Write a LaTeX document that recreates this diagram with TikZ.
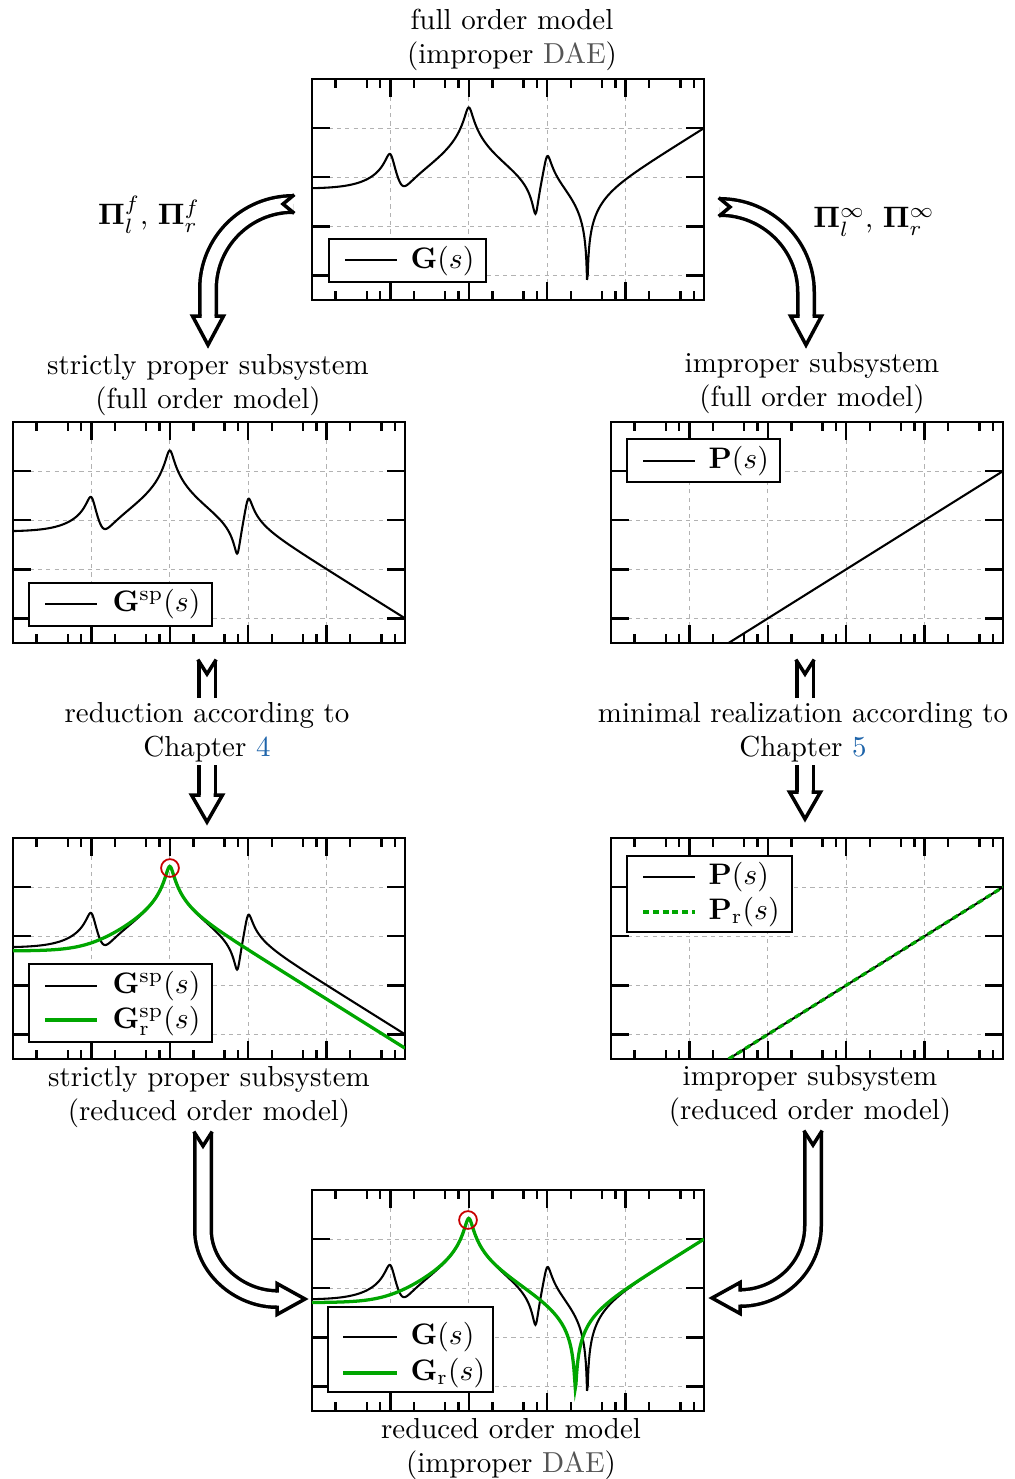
\documentclass[tikz,border=0pt]{standalone}
\usepackage{pgfplots}
\pgfplotsset{compat=1.18}
\usetikzlibrary{calc}

\definecolor{pgreen}{RGB}{0,166,0}
\definecolor{cred}{RGB}{200,0,0}
\definecolor{lnkblue}{RGB}{30,100,170}
\definecolor{daegray}{RGB}{85,85,85}

\tikzset{
  blk/.style={black, line width=0.7pt, mark=none},
  grn/.style={pgreen, line width=1.1pt, mark=none},
  grndash/.style={pgreen, line width=1.1pt, mark=none, dash pattern=on 2pt off 1.3pt},
  shaft/.style={line width=1.18pt, double=white, double distance=4.38pt},
  headst/.style={line width=1.18pt, fill=white, draw=black, line join=miter},
  notchst/.style={line width=1.18pt, line join=miter, line cap=rect},
  legbox/.style={draw=black, fill=white, line width=0.6pt},
  legtxt/.style={anchor=west, inner sep=0pt},
  lbl/.style={align=center, inner sep=0pt},
  peakmark/.style={draw=cred, line width=0.6pt},
  every node/.append style={font=\fontsize{9.75pt}{11.6pt}\selectfont},
}

\pgfplotsset{
  bode/.style={
    scale only axis, width=132.104pt, height=74.477pt, anchor=north west,
    xmin=0, xmax=5, ymin=0, ymax=4.5,
    xtick={1,2,3,4}, ytick={0.5,1.5,2.5,3.5},
    minor xtick={0.3,0.7,0.87,1.3,1.7,1.87,2.3,2.7,2.87,3.3,3.7,3.87,4.3,4.7,4.87},
    xticklabels={}, yticklabels={},
    grid=major,
    major grid style={gray!60, line width=0.4pt, dash pattern=on 1.4pt off 1.4pt},
    major tick length=6pt, minor tick length=3pt,
    tick style={black, line width=0.8pt},
    axis line style={line width=0.8pt},
    tick align=inside,
  }
}

\begin{document}
\begin{tikzpicture}[declare function={
    ur(\x)=10^(\x-2);
    ar(\x)=1-ur(\x)^2;
    br(\x)=0.2*ur(\x);
    cr(\x)=10^(\x-0.98);
    reGr(\x)=158.49*(ar(\x)+cr(\x)*br(\x))/(ar(\x)^2+br(\x)^2);
    imGr(\x)=158.49*(cr(\x)*ar(\x)-br(\x))/(ar(\x)^2+br(\x)^2);
    ua(\x)=10^(\x-1);
    dna(\x)=(1-ua(\x)^2)^2+(0.23*ua(\x))^2;
    reMa(\x)=(176.5*0.23*ua(\x)^2+28*(1-ua(\x)^2))/dna(\x);
    imMa(\x)=(176.5*ua(\x)*(1-ua(\x)^2)-28*0.23*ua(\x))/dna(\x);
    uc(\x)=10^(\x-3);
    reMc(\x)=150.3*0.18*uc(\x)^2/((1-uc(\x)^2)^2+(0.18*uc(\x))^2);
    imMc(\x)=150.3*uc(\x)*(1-uc(\x)^2)/((1-uc(\x)^2)^2+(0.18*uc(\x))^2);
    reGs(\x)=reGr(\x)+reMa(\x)+reMc(\x);
    imGs(\x)=imGr(\x)+imMa(\x)+imMc(\x);
    Pim(\x)=10^(\x-1.5);
    Ysp(\x)=0.5*log10(reGs(\x)^2+imGs(\x)^2);
    YG(\x)=0.5*log10((reGs(\x)-1.3)^2+(imGs(\x)+Pim(\x))^2);
    Yr(\x)=0.5*log10(reGr(\x)^2+imGr(\x)^2);
    YGr(\x)=0.5*log10((reGr(\x)+2.5)^2+(imGr(\x)+Pim(\x))^2);
  }]

% ---------- plots ----------
\begin{axis}[bode, name=axG, at={(105.144pt,-26.623pt)}]
  \addplot[blk, domain=0:5, samples=601] {YG(x)};
\end{axis}

\begin{axis}[bode, name=axGsp, at={(4.381pt,-142.214pt)}]
  \addplot[blk, domain=0:5, samples=601] {Ysp(x)};
\end{axis}

\begin{axis}[bode, name=axP, at={(205.907pt,-142.214pt)}]
  \addplot[blk, domain=1:5, samples=2] {x-1.5};
\end{axis}

\begin{axis}[bode, name=axGspr, at={(4.381pt,-282.406pt)}]
  \addplot[blk, domain=0:5, samples=601] {Ysp(x)};
  \addplot[grn, domain=0:5, samples=601] {Yr(x)};
\end{axis}

\begin{axis}[bode, name=axPr, at={(205.907pt,-282.406pt)}]
  \addplot[blk, domain=1:5, samples=2] {x-1.5};
  \addplot[grndash, domain=1.5:5, samples=2] {x-1.5};
\end{axis}

\begin{axis}[bode, name=axGr, at={(105.144pt,-401.03pt)}]
  \addplot[blk, domain=0:5, samples=601] {YG(x)};
  \addplot[grn, domain=0:5, samples=601] {YGr(x)};
\end{axis}

\begin{scope}[x=0.337pt, y=-0.337pt]
  % ---------- peak markers ----------
  \draw[peakmark] (170,868) circle[radius=3pt];
  \draw[peakmark] (468,1220) circle[radius=3pt];

  % ---------- legends ----------
  \path[legbox] (329,239) rectangle (486,282);
  \draw[blk] (345,260) -- (397,260);
  \node[legtxt] (lgG) at (410,261) {$\mathbf{G}(s)$};

  \path[legbox] (29,583) rectangle (212,626);
  \draw[blk] (45,604) -- (97,604);
  \node[legtxt] (lgGsp) at (112,604) {$\mathbf{G}^{\mathrm{sp}}(s)$};

  \path[legbox] (627,439) rectangle (780,482);
  \draw[blk] (643,461) -- (695,461);
  \node[legtxt] (lgP) at (708,461) {$\mathbf{P}(s)$};

  \path[legbox] (29,964) rectangle (212,1042);
  \draw[blk] (45,986) -- (97,986);
  \node[legtxt] (lgGsp2) at (112,986) {$\mathbf{G}^{\mathrm{sp}}(s)$};
  \draw[grn] (45,1020) -- (97,1020);
  \node[legtxt] (lgGspr) at (112,1021) {$\mathbf{G}^{\mathrm{sp}}_{\mathrm{r}}(s)$};

  \path[legbox] (627,856) rectangle (792,932);
  \draw[blk] (643,877) -- (695,877);
  \node[legtxt] (lgP2) at (708,877) {$\mathbf{P}(s)$};
  \draw[grndash] (643,912) -- (695,912);
  \node[legtxt] (lgPr) at (708,912) {$\mathbf{P}_{\mathrm{r}}(s)$};

  \path[legbox] (328,1307) rectangle (493,1392);
  \draw[blk] (343,1337) -- (397,1337);
  \node[legtxt] (lgG2) at (410,1337) {$\mathbf{G}(s)$};
  \draw[grn] (343,1373) -- (397,1373);
  \node[legtxt] (lgGr) at (410,1373) {$\mathbf{G}_{\mathrm{r}}(s)$};

  % ---------- texts ----------
  \node[lbl] (t1) at (512,40) {full order model\\(improper {\color{daegray}DAE})};
  \node[lbl] (t2) at (208,385) {strictly proper subsystem\\(full order model)};
  \node[lbl] (t3) at (812,383) {improper subsystem\\(full order model)};
  \node[lbl] (t4) at (207,732) {reduction according to\\Chapter {\color{lnkblue}4}};
  \node[lbl] (t5) at (803,732) {minimal realization according to\\Chapter {\color{lnkblue}5}};
  \node[lbl] (t6) at (209,1097) {strictly proper subsystem\\(reduced order model)};
  \node[lbl] (t7) at (810,1096) {improper subsystem\\(reduced order model)};
  \node[lbl] (t8) at (511,1449) {reduced order model\\(improper {\color{daegray}DAE})};

  \node (pif) at (149,215) {$\mathbf{\Pi}_l^f$, $\mathbf{\Pi}_r^f$};
  \node (piinf) at (874,222) {$\mathbf{\Pi}_l^\infty$, $\mathbf{\Pi}_r^\infty$};

  % ---------- arrow A1 (top left) ----------
  \coordinate (a1t) at (293,204);
  \coordinate (a1m) at (208,289);
  \coordinate (a1e) at (208,316);
  \draw[shaft] (a1t) .. controls (246,204) and (208,242) .. (a1m) -- (a1e);
  \filldraw[headst] ($(a1e)+(-6.5,0)$) -- ($(a1e)+(-15.5,0)$) -- ($(a1e)+(0,29)$) -- ($(a1e)+(15.5,0)$) -- ($(a1e)+(6.5,0)$);
  \draw[notchst] ($(a1t)+(0,-8.25)$) -- ($(a1t)+(-10,0)$) -- ($(a1t)+(0,8.25)$);

  % ---------- arrow A2 (top right) ----------
  \coordinate (a2t) at (720,207);
  \coordinate (a2m) at (806,292);
  \coordinate (a2e) at (806,316);
  \draw[shaft] (a2t) .. controls (767,207) and (806,245) .. (a2m) -- (a2e);
  \filldraw[headst] ($(a2e)+(-6.5,0)$) -- ($(a2e)+(-15.5,0)$) -- ($(a2e)+(0,29)$) -- ($(a2e)+(15.5,0)$) -- ($(a2e)+(6.5,0)$);
  \draw[notchst] ($(a2t)+(0,-8.25)$) -- ($(a2t)+(10,0)$) -- ($(a2t)+(0,8.25)$);

  % ---------- arrow A3 (middle left) ----------
  \coordinate (a3t) at (207,661);
  \coordinate (a3u) at (207,698);
  \coordinate (a3l) at (207,765);
  \coordinate (a3e) at (207,795);
  \draw[shaft] (a3t) -- (a3u);
  \draw[shaft] (a3l) -- (a3e);
  \filldraw[headst] ($(a3e)+(-6.5,0)$) -- ($(a3e)+(-15.5,0)$) -- ($(a3e)+(0,27)$) -- ($(a3e)+(15.5,0)$) -- ($(a3e)+(6.5,0)$);
  \draw[notchst] ($(a3t)+(-8.25,0)$) -- ($(a3t)+(0,13)$) -- ($(a3t)+(8.25,0)$);

  % ---------- arrow A4 (middle right) ----------
  \coordinate (a4t) at (805,661);
  \coordinate (a4u) at (805,698);
  \coordinate (a4l) at (805,765);
  \coordinate (a4e) at (805,792);
  \draw[shaft] (a4t) -- (a4u);
  \draw[shaft] (a4l) -- (a4e);
  \filldraw[headst] ($(a4e)+(-6.5,0)$) -- ($(a4e)+(-15.5,0)$) -- ($(a4e)+(0,27)$) -- ($(a4e)+(15.5,0)$) -- ($(a4e)+(6.5,0)$);
  \draw[notchst] ($(a4t)+(-8.25,0)$) -- ($(a4t)+(0,13)$) -- ($(a4t)+(8.25,0)$);

  % ---------- arrow A5 (bottom left) ----------
  \coordinate (a5t) at (203,1133);
  \coordinate (a5m) at (203,1230);
  \coordinate (a5e) at (277,1299);
  \draw[shaft] (a5t) -- (a5m) .. controls (203,1268) and (239,1299) .. (a5e);
  \filldraw[headst] ($(a5e)+(0,-6.5)$) -- ($(a5e)+(0,-15.5)$) -- ($(a5e)+(28,0)$) -- ($(a5e)+(0,15.5)$) -- ($(a5e)+(0,6.5)$);
  \draw[notchst] ($(a5t)+(-8.25,0)$) -- ($(a5t)+(0,13)$) -- ($(a5t)+(8.25,0)$);

  % ---------- arrow A6 (bottom right) ----------
  \coordinate (a6t) at (813,1132);
  \coordinate (a6m) at (813,1226);
  \coordinate (a6e) at (740,1298);
  \draw[shaft] (a6t) -- (a6m) .. controls (813,1266) and (780,1298) .. (a6e);
  \filldraw[headst] ($(a6e)+(0,-6.5)$) -- ($(a6e)+(0,-15.5)$) -- ($(a6e)+(-28,0)$) -- ($(a6e)+(0,15.5)$) -- ($(a6e)+(0,6.5)$);
  \draw[notchst] ($(a6t)+(-8.25,0)$) -- ($(a6t)+(0,13)$) -- ($(a6t)+(8.25,0)$);

  % ---------- fixed bounding box ----------
  \pgfresetboundingbox
  \useasboundingbox (0,0) rectangle (1015,1479);
\end{scope}
\end{tikzpicture}
\end{document}
